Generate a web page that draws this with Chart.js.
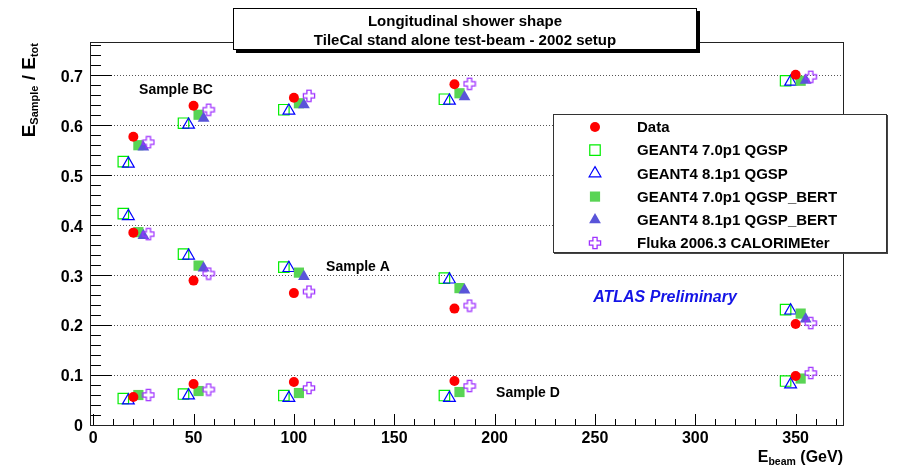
<!DOCTYPE html>
<html>
<head>
<meta charset="utf-8">
<title>Longitudinal shower shape</title>
<script src="https://cdn.jsdelivr.net/npm/chart.js@4.4.1/dist/chart.umd.min.js"></script>
<style>
  html, body { margin: 0; padding: 0; background: #fff; }
</style>
</head>
<body>
<canvas id="myChart" width="907" height="467"></canvas>
<script>
const FONT = '"Liberation Sans", Arial, Helvetica, sans-serif';

// beam energies (GeV)
const beamEnergies = [20, 50, 100, 180, 350];

// Data
const dataBC = [0.577, 0.639, 0.655, 0.682, 0.701];
const dataA = [0.385, 0.289, 0.264, 0.233, 0.202];
const dataD = [0.056, 0.082, 0.086, 0.088, 0.098];

// GEANT4 7.0p1 QGSP
const g470qgspBC = [0.527, 0.604, 0.631, 0.652, 0.689];
const g470qgspA = [0.423, 0.342, 0.316, 0.294, 0.231];
const g470qgspD = [0.053, 0.062, 0.059, 0.059, 0.088];

// GEANT4 8.1p1 QGSP
const g481qgspBC = [0.523, 0.601, 0.629, 0.649, 0.687];
const g481qgspA = [0.418, 0.339, 0.314, 0.291, 0.229];
const g481qgspD = [0.049, 0.059, 0.054, 0.054, 0.081];

// GEANT4 7.0p1 QGSP_BERT
const g470bertBC = [0.560, 0.621, 0.644, 0.664, 0.689];
const g470bertA = [0.386, 0.319, 0.305, 0.274, 0.223];
const g470bertD = [0.060, 0.068, 0.064, 0.066, 0.093];

// GEANT4 8.1p1 QGSP_BERT (sample D points hidden in the picture)
const g481bertBC = [0.556, 0.614, 0.641, 0.657, 0.690];
const g481bertA = [0.379, 0.314, 0.297, 0.270, 0.212];
const g481bertD = [null, null, null, null, null];

// Fluka 2006.3 CALORIMEter
const flukaBC = [0.566, 0.631, 0.659, 0.683, 0.697];
const flukaA = [0.382, 0.303, 0.267, 0.239, 0.204];
const flukaD = [0.060, 0.071, 0.074, 0.078, 0.104];

const xTickValues = [0, 50, 100, 150, 200, 250, 300, 350];
const xTickLabels = ["0", "50", "100", "150", "200", "250", "300", "350"];
const yTickValues = [0, 0.1, 0.2, 0.3, 0.4, 0.5, 0.6, 0.7];
const yTickLabels = ["0", "0.1", "0.2", "0.3", "0.4", "0.5", "0.6", "0.7"];

const sampleLabels = ["Sample BC", "Sample A", "Sample D"];

// open cross marker (ROOT style 28)
function makeOpenCross(color) {
  let c = document.createElement("canvas");
  c.width = 14;
  c.height = 14;
  let g = c.getContext("2d");
  let m = 7, h = 2.1, e = 5.6;
  g.strokeStyle = color;
  g.lineWidth = 1.3;
  g.beginPath();
  g.moveTo(m - h, m - e);
  g.lineTo(m + h, m - e);
  g.lineTo(m + h, m - h);
  g.lineTo(m + e, m - h);
  g.lineTo(m + e, m + h);
  g.lineTo(m + h, m + h);
  g.lineTo(m + h, m + e);
  g.lineTo(m - h, m + e);
  g.lineTo(m - h, m + h);
  g.lineTo(m - e, m + h);
  g.lineTo(m - e, m - h);
  g.lineTo(m - h, m - h);
  g.closePath();
  g.stroke();
  return c;
}

let series = [
  { label: "Data", samples: [dataBC, dataA, dataD], shift: 0, order: 0,
    style: "circle", radius: 5, bg: "#ff0000", border: "#ff0000", bw: 0 },
  { label: "GEANT4 7.0p1 QGSP", samples: [g470qgspBC, g470qgspA, g470qgspD], shift: -5, order: 5,
    style: "rect", radius: 7.4, bg: "rgba(0,0,0,0)", border: "#00ee00", bw: 1.2 },
  { label: "GEANT4 8.1p1 QGSP", samples: [g481qgspBC, g481qgspA, g481qgspD], shift: -2.5, order: 4,
    style: "triangle", radius: 6.8, bg: "rgba(0,0,0,0)", border: "#0000ff", bw: 1.2 },
  { label: "GEANT4 7.0p1 QGSP_BERT", samples: [g470bertBC, g470bertA, g470bertD], shift: 2.5, order: 3,
    style: "rect", radius: 7.2, bg: "#59d454", border: "#59d454", bw: 0 },
  { label: "GEANT4 8.1p1 QGSP_BERT", samples: [g481bertBC, g481bertA, g481bertD], shift: 5, order: 2,
    style: "triangle", radius: 6.8, bg: "#5954d9", border: "#5954d9", bw: 0 },
  { label: "Fluka 2006.3 CALORIMEter", samples: [flukaBC, flukaA, flukaD], shift: 7.5, order: 1,
    style: makeOpenCross("#a033ff"), radius: 6, bg: "rgba(0,0,0,0)", border: "#a033ff", bw: 1.3 },
];

let datasets = series.map(function (s) {
  let points = [];
  for (let values of s.samples) {
    values.forEach(function (v, i) {
      if (v !== null) points.push({ x: beamEnergies[i] + s.shift, y: v });
    });
  }
  return {
    label: s.label,
    data: points,
    order: s.order,
    showLine: false,
    pointStyle: s.style,
    pointRadius: s.radius,
    pointBackgroundColor: s.bg,
    pointBorderColor: s.border,
    pointBorderWidth: s.bw,
  };
});

function drawMarker(ctx, s, x, y) {
  ctx.save();
  ctx.fillStyle = s.bg;
  ctx.strokeStyle = s.border;
  ctx.lineWidth = s.bw;
  Chart.helpers.drawPoint(ctx, { pointStyle: s.style, radius: s.radius, borderWidth: s.bw, rotation: 0 }, x, y);
  ctx.restore();
}

// draws text pieces [text, size, dy] one after the other
function richWidth(ctx, parts) {
  let w = 0;
  for (let p of parts) {
    ctx.font = "bold " + p[1] + "px " + FONT;
    w += ctx.measureText(p[0]).width;
  }
  return w;
}
function drawRich(ctx, parts, x, y) {
  for (let p of parts) {
    ctx.font = "bold " + p[1] + "px " + FONT;
    ctx.fillText(p[0], x, y + p[2]);
    x += ctx.measureText(p[0]).width;
  }
}

const rootFrame = {
  id: "rootFrame",
  afterDraw(chart) {
    const ctx = chart.ctx;
    const a = chart.chartArea;
    const xs = chart.scales.x;
    const ys = chart.scales.y;
    ctx.save();

    // tick marks, drawn inside the frame like ROOT
    ctx.strokeStyle = "#000";
    ctx.lineWidth = 1;
    ctx.beginPath();
    for (let i = 0; i <= 38; i++) {
      let y = Math.round(ys.getPixelForValue(i * 0.02)) + 0.5;
      ctx.moveTo(a.left, y);
      ctx.lineTo(a.left + (i % 5 === 0 ? 22 : 11), y);
    }
    for (let i = 0; i <= 37; i++) {
      let x = Math.round(xs.getPixelForValue(i * 10)) + 0.5;
      ctx.moveTo(x, a.bottom);
      ctx.lineTo(x, a.bottom - (i % 5 === 0 ? 11 : 6));
    }
    ctx.stroke();

    // frame
    ctx.strokeStyle = "#222";
    ctx.strokeRect(a.left + 0.5, a.top + 0.5, a.right - a.left, a.bottom - a.top);

    // title box with shadow
    ctx.fillStyle = "#000";
    ctx.fillRect(236, 11, 464, 42);
    ctx.fillStyle = "#fff";
    ctx.fillRect(233, 8, 464, 42);
    ctx.strokeStyle = "#000";
    ctx.strokeRect(233.5, 8.5, 463, 41);
    ctx.fillStyle = "#000";
    ctx.textAlign = "center";
    ctx.textBaseline = "middle";
    ctx.font = "bold 15px " + FONT;
    ctx.fillText("Longitudinal shower shape", 465, 22);
    ctx.fillText("TileCal stand alone test-beam - 2002 setup", 465, 41);

    // legend
    ctx.fillStyle = "#444";
    ctx.fillRect(554, 115, 334, 139);
    ctx.fillStyle = "#fff";
    ctx.fillRect(553, 114, 334, 139);
    ctx.strokeStyle = "#333";
    ctx.strokeRect(553.5, 114.5, 333, 138);
    ctx.textAlign = "left";
    ctx.font = "bold 15px " + FONT;
    series.forEach(function (s, i) {
      let y = 127 + i * 23.2;
      drawMarker(ctx, s, 595, y);
      ctx.fillStyle = "#000";
      ctx.font = "bold 15px " + FONT;
      ctx.fillText(s.label, 637, y + 1);
    });

    // sample labels
    ctx.fillStyle = "#000";
    ctx.textAlign = "center";
    ctx.font = "bold 14px " + FONT;
    ctx.fillText(sampleLabels[0], 176, 90);
    ctx.fillText(sampleLabels[1], 358, 267);
    ctx.fillText(sampleLabels[2], 528, 393);

    ctx.fillStyle = "#1414e6";
    ctx.font = "italic bold 16px " + FONT;
    ctx.fillText("ATLAS Preliminary", 665, 298);

    // axis titles
    ctx.fillStyle = "#000";
    ctx.textAlign = "left";
    ctx.textBaseline = "alphabetic";
    let xParts = [["E", 16, 0], ["beam", 10.5, 3], [" (GeV)", 16, 0]];
    drawRich(ctx, xParts, a.right - richWidth(ctx, xParts), 462);

    let yParts = [["E", 19, 0], ["Sample", 11, 3], [" / ", 19, 0], ["E", 19, 0], ["tot", 11, 3]];
    let yw = richWidth(ctx, yParts);
    ctx.translate(35, 43 + yw);
    ctx.rotate(-Math.PI / 2);
    drawRich(ctx, yParts, 0, 0);

    ctx.restore();
  },
};

new Chart(document.getElementById("myChart"), {
  type: "scatter",
  data: { datasets: datasets },
  options: {
    responsive: false,
    animation: false,
    devicePixelRatio: 1,
    events: [],
    layout: { padding: { left: 0, top: 42, right: 64, bottom: 0 } },
    plugins: {
      legend: { display: false },
      tooltip: { enabled: false },
    },
    scales: {
      x: {
        type: "linear",
        min: -1.6,
        max: 373.6,
        afterBuildTicks: function (s) {
          s.ticks = xTickValues.map((v) => ({ value: v }));
        },
        afterFit: function (s) {
          s.height = 42;
        },
        ticks: {
          color: "#000",
          font: { family: FONT, size: 16, weight: "bold" },
          padding: 4,
          maxRotation: 0,
          autoSkip: false,
          callback: (v, i) => xTickLabels[i],
        },
        grid: { display: false, drawTicks: false },
        border: { display: false },
      },
      y: {
        min: 0,
        max: 0.7666,
        afterBuildTicks: function (s) {
          s.ticks = yTickValues.map((v) => ({ value: v }));
        },
        afterFit: function (s) {
          s.width = 90;
        },
        ticks: {
          color: "#000",
          font: { family: FONT, size: 16, weight: "bold" },
          padding: 7,
          labelOffset: 2,
          autoSkip: false,
          callback: (v, i) => yTickLabels[i],
        },
        grid: {
          drawTicks: false,
          color: (c) => (c.tick && c.tick.value > 0 ? "#555" : "rgba(0,0,0,0)"),
        },
        border: { display: false, dash: [1, 2] },
      },
    },
  },
  plugins: [rootFrame],
});
</script>
</body>
</html>
